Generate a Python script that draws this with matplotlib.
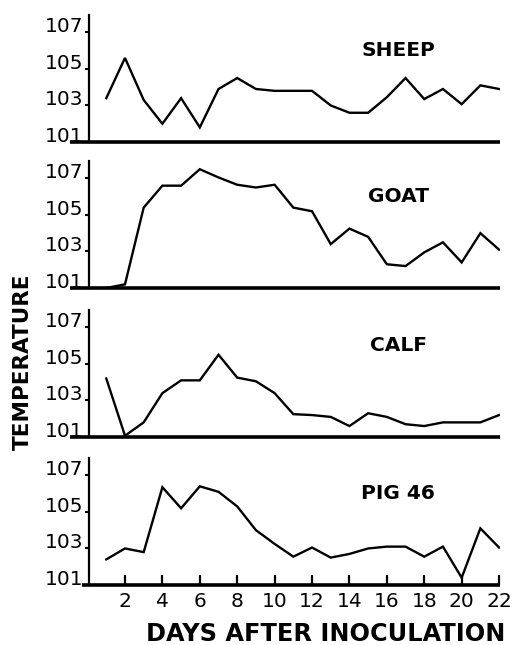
import matplotlib
matplotlib.use("Agg")
import matplotlib.pyplot as plt

days = list(range(1, 23))
animals = ["SHEEP", "GOAT", "CALF", "PIG 46"]
sheep = [103.4, 105.6, 103.3, 102.0, 103.4, 101.8, 103.9, 104.5, 103.9, 103.8, 103.8,
         103.8, 103.0, 102.6, 102.6, 103.45, 104.5, 103.35, 103.9, 103.07, 104.1, 103.9]
goat = [101.0, 101.2, 105.4, 106.6, 106.6, 107.5, 107.05, 106.65, 106.5, 106.65, 105.4,
        105.2, 103.4, 104.25, 103.8, 102.3, 102.2, 102.95, 103.5, 102.4, 104.0, 103.1]
calf = [104.2, 101.07, 101.8, 103.4, 104.1, 104.1, 105.5, 104.25, 104.05, 103.4, 102.25,
        102.2, 102.1, 101.6, 102.3, 102.1, 101.7, 101.6, 101.8, 101.8, 101.8, 102.2]
pig46 = [102.4, 103.0, 102.8, 106.35, 105.2, 106.4, 106.1, 105.3, 104.0, 103.25, 102.55,
         103.05, 102.5, 102.7, 103.0, 103.1, 103.1, 102.55, 103.1, 101.4, 104.1, 103.05]
series = [sheep, goat, calf, pig46]
yticks = [101, 103, 105, 107]
xticks = [2, 4, 6, 8, 10, 12, 14, 16, 18, 20, 22]

W, H = 523, 645
fig = plt.figure(figsize=(W / 100, H / 100), dpi=100)
fig.patch.set_facecolor("white")

bottoms_px = [142, 288, 437, 585]
height_px = 127
left_px, right_px = 70, 500

for i, (name, vals) in enumerate(zip(animals, series)):
    b = bottoms_px[i]
    ax = fig.add_axes([left_px / W, (H - b) / H, (right_px - left_px) / W, height_px / H])
    ax.plot(days, vals, color="black", lw=1.7, solid_joinstyle="miter")
    ax.set_xlim(-0.94, 22.05)
    ax.set_ylim(101, 107.95)
    for s in ["top", "right"]:
        ax.spines[s].set_visible(False)
    ax.spines["left"].set_position(("data", 0.075))
    ax.spines["left"].set_linewidth(1.6)
    ax.spines["bottom"].set_linewidth(2.6)
    ax.spines["bottom"].set_capstyle("butt")
    ax.set_yticks(yticks)
    ax.set_yticklabels([str(t) for t in yticks], fontsize=14.5, family="DejaVu Sans",
                       va="baseline")
    ax.tick_params(axis="y", direction="out", length=3, width=1.5, pad=1)
    if i == 3:
        ax.spines["bottom"].set_bounds(-0.3, 22.05)
        ax.set_xticks(xticks)
        ax.set_xticklabels([str(t) for t in xticks], fontsize=14.5, family="DejaVu Sans")
        ax.tick_params(axis="x", direction="in", length=7, width=1.6, pad=5)
    else:
        ax.set_xticks([])
    ax.text(16.6, 106.0, name, fontsize=14.5, fontweight="bold", ha="center", va="center",
            family="DejaVu Sans")
    ax.patch.set_alpha(0)

fig.text(23 / W, 1 - 362 / H, "TEMPERATURE", rotation=90, fontsize=15.5, fontweight="bold",
         ha="center", va="center", family="DejaVu Sans")
fig.text(326 / W, 1 - 634 / H, "DAYS AFTER INOCULATION", fontsize=17.3, fontweight="bold",
         ha="center", va="center", family="DejaVu Sans")

fig.savefig("out.png", dpi=100)
